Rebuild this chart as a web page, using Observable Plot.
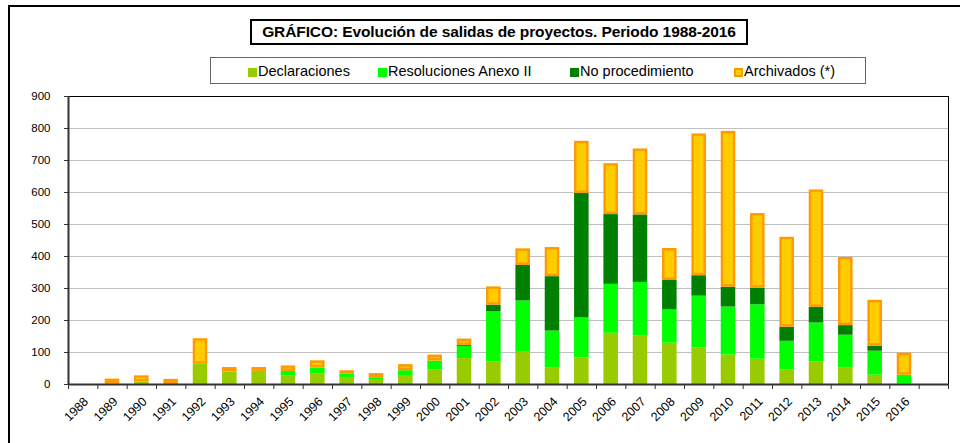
<!DOCTYPE html>
<html><head><meta charset="utf-8">
<script src="https://cdn.jsdelivr.net/npm/d3@7"></script>
<script src="https://cdn.jsdelivr.net/npm/@observablehq/plot@0.6"></script>
<style>
html,body{margin:0;padding:0;background:#fff;overflow:hidden;}
#wrap{position:relative;width:960px;height:443px;overflow:hidden;font-family:"Liberation Sans",Arial,sans-serif;color:#000;}
#frame{position:absolute;left:8px;top:5px;width:990px;height:490px;border:2px solid #000;box-sizing:border-box;}
#chart{position:absolute;left:0;top:0;}
#title{position:absolute;left:250px;top:19px;width:498px;height:26px;border:2px solid #000;box-sizing:border-box;background:#fff;font-weight:bold;font-size:15.5px;line-height:22px;text-align:center;white-space:nowrap;letter-spacing:-0.1px;}
#legend{position:absolute;left:210px;top:57px;width:656px;height:27px;border:1px solid #666;box-sizing:border-box;background:#fff;font-size:14.5px;}
.item{position:absolute;top:4px;height:18px;line-height:18px;white-space:nowrap;}
.sw{display:inline-block;width:9px;height:9px;margin-right:1px;vertical-align:-1px;box-sizing:border-box;}
</style>
</head><body>
<div id="wrap">
  <div id="frame"></div>
  <div id="chart"></div>
  <div id="title">GRÁFICO: Evolución de salidas de proyectos. Periodo 1988-2016</div>
  <div id="legend"></div>
</div>
<script>
const years = [1988,1989,1990,1991,1992,1993,1994,1995,1996,1997,1998,1999,2000,2001,2002,2003,2004,2005,2006,2007,2008,2009,2010,2011,2012,2013,2014,2015,2016];
const declaraciones = [0,2,8,3,63,39,41,27,34,22,13,28,46,81,70,103,51,83,160,152,129,115,92,79,46,71,52,29,2];
const resoluciones  = [0,0,0,0,0,0,0,14,17,10,8,15,27,38,157,158,116,125,153,167,104,161,150,170,89,121,102,75,27];
const noProcedimiento = [0,0,0,0,0,0,0,0,0,0,0,0,0,3,21,111,170,389,218,211,92,64,62,52,44,49,30,16,0];
const archivados = [0,15,19,13,80,14,12,17,23,11,13,19,19,20,57,52,91,163,159,206,100,443,487,233,281,367,213,143,69];
const seriesNames = ["Declaraciones","Resoluciones Anexo II","No procedimiento","Archivados (*)"];
const yTicks = [0,100,200,300,400,500,600,700,800,900];

const colors = ["#99CC00","#00FF00","#008000","#FFCC00"];
const seriesValues = [declaraciones, resoluciones, noProcedimiento, archivados];

// stacked table
const rows = [];
years.forEach((yr, i) => {
  let base = 0;
  seriesValues.forEach((vals, s) => {
    const v = vals[i];
    if (v > 0) rows.push({i, s, y1: base, y2: base + v});
    base += v;
  });
});
const nSlots = years.length + 1;
const inset = 7.4;
const sw = 2.4;

const barMarks = [0,1,2].map(s => Plot.rect(rows.filter(d => d.s === s), {
  x1: d => d.i, x2: d => d.i + 1, y1: "y1", y2: "y2",
  fill: colors[s], insetLeft: inset, insetRight: inset
}));
const archMark = Plot.rect(rows.filter(d => d.s === 3), {
  x1: d => d.i, x2: d => d.i + 1, y1: "y1", y2: "y2",
  fill: "#FFCC00", stroke: "#FF9900", strokeWidth: sw,
  insetLeft: inset + sw/2, insetRight: inset + sw/2, insetTop: sw/2, insetBottom: sw/2
});

const chart = Plot.plot({
  width: 960, height: 443,
  marginLeft: 68, marginRight: 12, marginTop: 96, marginBottom: 59,
  style: {fontFamily: '"Liberation Sans", Arial, sans-serif', background: "transparent", color: "#000"},
  x: {type: "linear", domain: [0, nSlots], axis: null},
  y: {domain: [0, 900], axis: null},
  marks: [
    Plot.ruleY(yTicks.filter(d => d > 0 && d < 900), {stroke: "#c0c0c0", strokeWidth: 1}),
    ...barMarks,
    archMark,
    Plot.ruleY([900], {stroke: "#000", strokeWidth: 1}),
    Plot.ruleX([nSlots], {stroke: "#000", strokeWidth: 1}),
    Plot.axisY(yTicks, {tickSize: 4, tickPadding: 14, fontSize: 11.5, label: null, stroke: "#333"}),
    Plot.axisX(d3.range(0, nSlots + 1), {tickSize: 5, tickFormat: () => "", label: null, stroke: "#333"}),
    Plot.ruleX([0], {stroke: "#333", strokeWidth: 2}),
    Plot.ruleY([0], {stroke: "#333", strokeWidth: 2}),
    Plot.text(years, {x: (d, i) => i + 0.5, frameAnchor: "bottom", text: d => String(d),
      rotate: -45, textAnchor: "end", lineAnchor: "middle", dx: 3, dy: 15, fontSize: 12.5, fill: "#000"})
  ]
});
document.getElementById("chart").appendChild(chart);

// legend
const legendLeft = [37, 167, 359, 523];
const legend = document.getElementById("legend");
seriesNames.forEach((name, s) => {
  const it = document.createElement("div");
  it.className = "item";
  it.style.left = legendLeft[s] + "px";
  const swatch = document.createElement("span");
  swatch.className = "sw";
  swatch.style.background = colors[s];
  if (s === 3) swatch.style.border = "2px solid #FF9900";
  it.appendChild(swatch);
  it.appendChild(document.createTextNode(name));
  legend.appendChild(it);
});
</script>
</body></html>
